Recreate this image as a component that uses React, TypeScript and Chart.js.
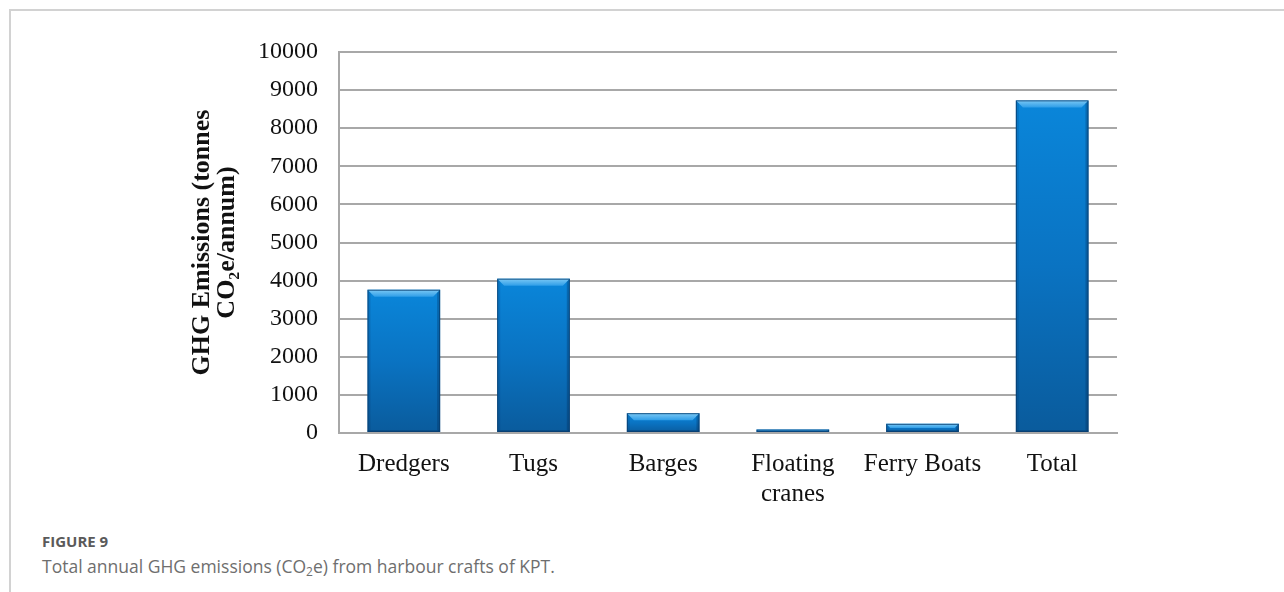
import React, { useEffect, useRef } from "react";
import { Chart, registerables } from "chart.js";

Chart.register(...registerables);

const categories: (string | string[])[] = ["Dredgers", "Tugs", "Barges", ["Floating", "cranes"], "Ferry Boats", "Total"];
const emissions: number[] = [3760, 4050, 520, 90, 240, 8730];
const yTicks: number[] = [0, 1000, 2000, 3000, 4000, 5000, 6000, 7000, 8000, 9000, 10000];
const yTitle: string[] = ["GHG Emissions (tonnes", "CO\u2082e/annum)"];
const figureLabel = "FIGURE 9";
const captionBefore = "Total annual GHG emissions (CO";
const captionAfter = "e) from harbour crafts of KPT.";

const SERIF = "'Liberation Serif', 'Times New Roman', serif";

const bevelPlugin = {
  id: "bevel",
  afterDatasetsDraw(chart: any) {
    const ctx = chart.ctx;
    const meta = chart.getDatasetMeta(0);
    meta.data.forEach((el: any) => {
      const { x, y, width, base } = el.getProps(["x", "y", "width", "base"], true);
      const l = x - width / 2;
      const r = x + width / 2;
      const h = base - y;
      const b = Math.min(7, h / 2);
      ctx.save();
      const g = ctx.createLinearGradient(0, y, 0, y + b);
      g.addColorStop(0, "#7cc9f5");
      g.addColorStop(1, "#2f9ee8");
      ctx.fillStyle = g;
      ctx.beginPath();
      ctx.moveTo(l, y);
      ctx.lineTo(r, y);
      ctx.lineTo(r - b, y + b);
      ctx.lineTo(l + b, y + b);
      ctx.closePath();
      ctx.fill();
      ctx.fillStyle = "rgba(0,35,75,0.28)";
      ctx.beginPath();
      ctx.moveTo(r, y);
      ctx.lineTo(r, base);
      ctx.lineTo(r - 3, base - 2);
      ctx.lineTo(r - 3, y + Math.min(3, h / 2));
      ctx.closePath();
      ctx.fill();
      ctx.fillStyle = "rgba(0,35,75,0.14)";
      ctx.beginPath();
      ctx.moveTo(l, y);
      ctx.lineTo(l, base);
      ctx.lineTo(l + 3, base - 2);
      ctx.lineTo(l + 3, y + Math.min(3, h / 2));
      ctx.closePath();
      ctx.fill();
      if (h > 6) {
        ctx.fillStyle = "rgba(0,35,75,0.25)";
        ctx.fillRect(l, base - 2, width, 2);
      }
      ctx.strokeStyle = "rgba(8,60,110,0.8)";
      ctx.lineWidth = 1;
      ctx.strokeRect(l + 0.5, y + 0.5, width - 1, h - 1);
      ctx.restore();
    });
  },
};

export default function App() {
  const canvasRef = useRef<HTMLCanvasElement | null>(null);

  useEffect(() => {
    const canvas = canvasRef.current;
    if (!canvas) return;
    const chart = new Chart(canvas, {
      type: "bar",
      data: {
        labels: categories,
        datasets: [
          {
            data: emissions,
            backgroundColor: (context: any) => {
              const c = context.chart;
              const ys = c.scales && c.scales.y;
              if (!ys || context.parsed == null) return "#0a72c0";
              const top = ys.getPixelForValue(context.parsed.y);
              const bottom = ys.getPixelForValue(0);
              if (!isFinite(top) || !isFinite(bottom) || bottom - top < 1) return "#1a8ee0";
              const g = c.ctx.createLinearGradient(0, top, 0, bottom);
              g.addColorStop(0, "#0a86da");
              g.addColorStop(0.5, "#0a73c2");
              g.addColorStop(1, "#0a5b9c");
              return g;
            },
            borderWidth: 0,
            categoryPercentage: 1,
            barPercentage: 0.56,
          },
        ],
      },
      options: {
        responsive: false,
        maintainAspectRatio: false,
        animation: false,
        devicePixelRatio: 1,
        layout: { padding: { left: 190, right: 167, top: 52, bottom: 17 } },
        plugins: {
          legend: { display: false },
          tooltip: { enabled: false },
          title: { display: false },
        },
        scales: {
          x: {
            afterFit: (scale: any) => {
              scale.height = 80;
            },
            grid: { display: false, drawTicks: false },
            border: { display: true, color: "#a8a8a8", width: 2 },
            ticks: {
              color: "#111",
              font: { family: SERIF, size: 25, lineHeight: 1.2 },
              padding: 16,
              maxRotation: 0,
              autoSkip: false,
            },
          },
          y: {
            min: 0,
            max: 10000,
            afterFit: (scale: any) => {
              scale.width = 149;
            },
            afterBuildTicks: (scale: any) => {
              scale.ticks = yTicks.map((v) => ({ value: v }));
            },
            grid: { color: "#a8a8a8", lineWidth: 2, drawTicks: false },
            border: { display: true, color: "#a8a8a8", width: 2 },
            ticks: {
              color: "#111",
              font: { family: SERIF, size: 24 },
              padding: 21,
              callback: (value: any) => String(value),
            },
            title: {
              display: true,
              text: yTitle,
              color: "#111",
              font: { family: SERIF, size: 26, weight: "bold", lineHeight: 0.95 },
              padding: 0,
            },
          },
        },
      },
      plugins: [bevelPlugin],
    } as any);
    return () => chart.destroy();
  }, []);

  return (
    <div style={{ position: "absolute", left: 0, top: 0, width: 1284, height: 592, background: "#fff", overflow: "hidden" }}>
      <div
        style={{
          position: "absolute",
          left: 9,
          top: 9,
          right: 0,
          bottom: 0,
          borderTop: "2px solid #d2d2d2",
          borderLeft: "2px solid #d2d2d2",
        }}
      />
      <canvas ref={canvasRef} width={1284} height={530} style={{ position: "absolute", left: 0, top: 0, width: 1284, height: 530 }} />
      <div
        style={{
          position: "absolute",
          left: 42,
          top: 530,
          fontFamily: "'Open Sans', sans-serif",
          fontWeight: 700,
          fontSize: 15,
          color: "#5a5a5a",
          lineHeight: "22px",
        }}
      >
        {figureLabel}
      </div>
      <div
        style={{
          position: "absolute",
          left: 42,
          top: 555,
          fontFamily: "'Open Sans', sans-serif",
          fontSize: 17.5,
          color: "#6e6e6e",
          lineHeight: "22px",
          whiteSpace: "nowrap",
        }}
      >
        {captionBefore}
        <sub style={{ fontSize: 12, verticalAlign: "-3px" }}>2</sub>
        {captionAfter}
      </div>
    </div>
  );
}
